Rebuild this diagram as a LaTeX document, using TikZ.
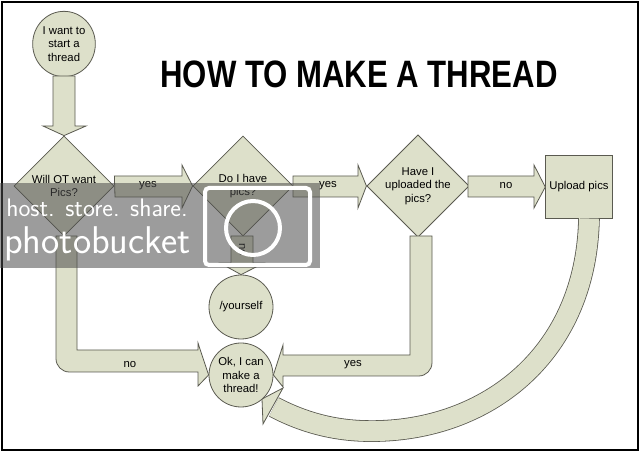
\documentclass[tikz,border=0pt]{standalone}
\usepackage{fontspec}
\setmainfont{Liberation Sans}
\usetikzlibrary{shapes.geometric}
\definecolor{sh}{HTML}{DDE0CA}
\definecolor{ol}{HTML}{5A5A50}
\begin{document}
\begin{tikzpicture}[x=0.75pt,y=-0.75pt,
  box/.style={draw=ol,fill=sh,line width=0.6pt},
  txt/.style={font=\fontsize{8.5pt}{10pt}\selectfont,align=center,inner sep=0},
  dia/.style={box,diamond,minimum width=75pt,minimum height=75pt,inner sep=0,txt},
  circ/.style={box,circle,minimum size=48pt,inner sep=0,txt},
  lab/.style={txt}]
\useasboundingbox (0,0) rectangle (640,452);
\fill[white] (0,0) rectangle (640,452);
\draw[line width=2.2pt] (2,2) rectangle (638,450);
% title
\node (title) at (359,74) {\resizebox{298pt}{20pt}{\bfseries HOW TO MAKE A THREAD}};
% nodes
\node[box,ellipse,minimum width=47pt,minimum height=49pt,inner sep=0,txt] (start) at (64,44) {I want to\\start a\\thread};
\node[dia] (d1) at (64,186) {Will OT want\\Pics?};
\node[dia] (d2) at (243,186) {Do I have\\pics?};
\node[dia] (d3) at (418,186) {Have I\\uploaded the\\pics?};
\node[box,minimum width=50pt,minimum height=47pt,inner sep=0,txt] (up) at (579,187) {Upload pics};
\node[circ] (your) at (241,307) {/yourself};
% curved arrow
\draw[draw=ol,line width=0.6pt,double=sh,double distance=15pt]
  (589,218.5) .. controls (586,360) and (480,434) .. (365,431) .. controls (325,430) and (295,418) .. (274,407);
\draw[box] (283,388) -- (262,399) -- (263,424) -- cycle;
\node[circ] (ok) at (241,375) {Ok, I can\\make a\\thread!};
% start -> d1
\draw[box] (53,76) -- (75,76) -- (75,126) -- (86,126) -- (d1.north) -- (43,126) -- (53,126) -- cycle;
% d1 -> d2 yes
\draw[box] (d1.east) ++(0,-10) -- (182,176) -- (182,165) -- (d2.west) -- (182,208) -- (182,197) -- (115,197) -- cycle;
\node[lab] (y1) at (148,186) {yes};
% d2 -> d3 yes
\draw[box] (293,176) -- (358,176) -- (358,165) -- (d3.west) -- (358,208) -- (358,197) -- (293,197) -- cycle;
\node[lab] (y2) at (328,186) {yes};
% d3 -> up no
\draw[box] (468,176) -- (534,176) -- (534,165) -- (up.west) -- (534,208) -- (534,197) -- (468,197) -- cycle;
\node[lab] (n1) at (506,186) {no};
% d2 -> your no
\draw[box] (231,236) -- (253,236) -- (253,263) -- (264,263) -- (your.north) -- (220,263) -- (231,263) -- cycle;
\node[lab,rotate=-90] (n2) at (242,250) {no};
% d1 -> ok no
\draw[box] (56,236) -- (77,236) -- (77,350) -- (198,350) -- (198,343) -- (ok.west) -- (198,386) -- (198,372)
  [rounded corners=10] -- (56,372) [sharp corners] -- cycle;
\node[lab] (n3) at (130,365) {no};
% d3 -> ok yes
\draw[box] (410,236) -- (432,236) [rounded corners=10] -- (432,376) [sharp corners] -- (283,376) -- (283,387) -- (ok.east) -- (283,345) -- (283,355) -- (410,355) -- cycle;
\node[lab] (y3) at (353,365) {yes};
% watermark
\fill[gray!60!black,opacity=0.55] (0,183) rectangle (320,268);
\node[white,font=\fontsize{19pt}{19pt}\selectfont\sffamily,anchor=west,inner sep=0] (wm1) at (6,208) {host. store. share.};
\node[white,font=\fontsize{29pt}{29pt}\selectfont\sffamily,anchor=west,inner sep=0] (wm2) at (4,244) {photobucket};
\draw[white,line width=3pt,rounded corners=3] (205,188) rectangle (310,265);
\draw[white,line width=3pt] (253,228) circle (27);
\end{tikzpicture}
\end{document}
